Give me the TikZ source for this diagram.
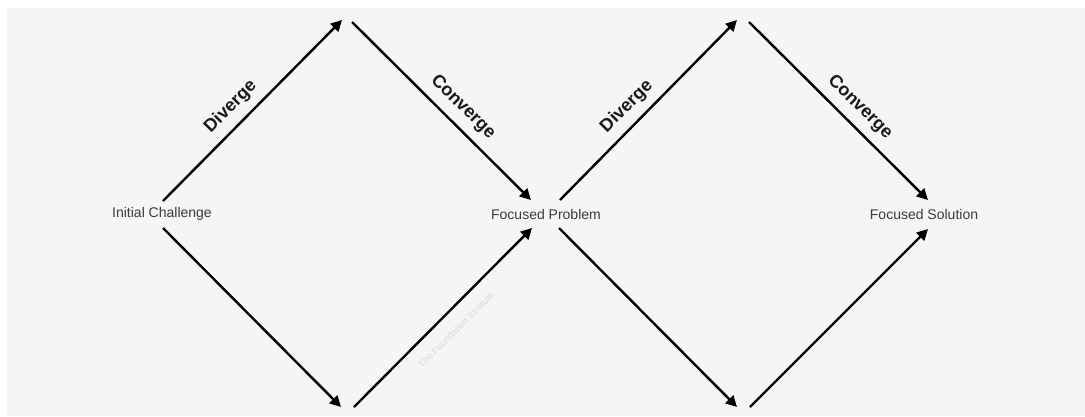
\documentclass[tikz,border=0pt]{standalone}
\usepackage{fontspec}
\setmainfont{Liberation Sans}
\usetikzlibrary{arrows.meta}
\definecolor{bggray}{HTML}{F5F5F5}
\definecolor{txtgray}{HTML}{3A3A3A}
\definecolor{wmgray}{HTML}{DADADA}
\begin{document}
\begin{tikzpicture}[x=1pt,y=-1pt,
  flow/.style={line width=2.4pt,draw=black,-{Triangle[length=11pt,width=11pt]}},
  stage/.style={text=txtgray,font=\fontsize{14}{16}\selectfont,inner sep=0pt},
  phase/.style={sloped,above=5pt,pos=0.45,text=black!90,font=\fontsize{18}{20}\selectfont\bfseries},
  phasec/.style={sloped,above=5pt,pos=0.55,text=black!90,font=\fontsize{18}{20}\selectfont\bfseries}]
\useasboundingbox (0,0) rectangle (1085,416);
\fill[white] (0,0) rectangle (1085,416);
\fill[bggray] (7,8) rectangle (1085,416);

\node[stage] (ic) at (162,214) {Initial Challenge};
\node[stage] (fp) at (546,214) {Focused Problem};
\node[stage] (fs) at (924,214) {Focused Solution};

\coordinate (a1s) at (163,201); \coordinate (a1e) at (342,20);
\coordinate (a2s) at (163,228); \coordinate (a2e) at (341,407);
\coordinate (a3s) at (352,22);  \coordinate (a3e) at (531,200);
\coordinate (a4s) at (354,407); \coordinate (a4e) at (532,228);
\coordinate (a5s) at (560,200); \coordinate (a5e) at (737,20);
\coordinate (a6s) at (559,228); \coordinate (a6e) at (737,407);
\coordinate (a7s) at (749,22);  \coordinate (a7e) at (928,200);
\coordinate (a8s) at (750,407); \coordinate (a8e) at (928,229);

\draw[flow] (a1s) -- node[phase] (d1) {Diverge} (a1e);
\draw[flow] (a2s) -- (a2e);
\draw[flow] (a3s) -- node[phasec] (c1) {Converge} (a3e);
\draw[flow] (a4s) -- (a4e);
\draw[flow] (a5s) -- node[phase] (d2) {Diverge} (a5e);
\draw[flow] (a6s) -- (a6e);
\draw[flow] (a7s) -- node[phasec] (c2) {Converge} (a7e);
\draw[flow] (a8s) -- (a8e);

\node[text=wmgray,font=\fontsize{9.5}{11}\selectfont,rotate=45] (wm) at (456,330) {The Foundation Institute};
\end{tikzpicture}
\end{document}
